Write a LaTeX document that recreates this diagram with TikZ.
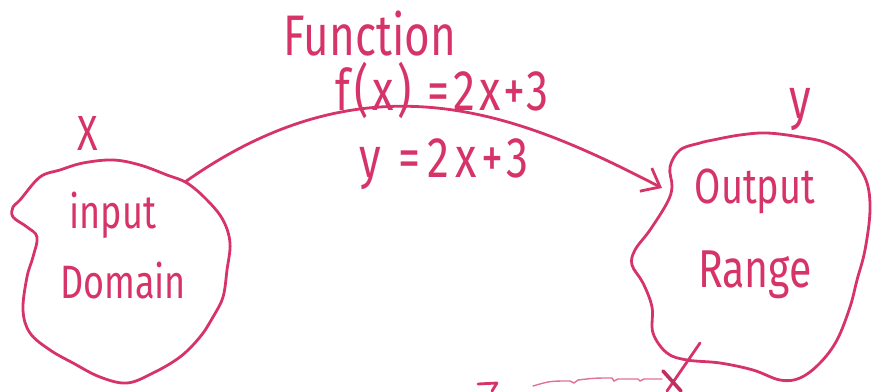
\documentclass[tikz,border=0pt]{standalone}
\usepackage{fontspec}
\setmainfont{Fira Sans}
\usetikzlibrary{arrows.meta}
\definecolor{ink}{RGB}{214,52,104}
\newcommand{\tall}[1]{\scalebox{1}[1.3]{#1}}
\tikzset{
  pen/.style={draw=ink, line width=2.8pt, line cap=round, line join=round},
  hand/.style={text=ink, inner sep=0pt, anchor=base},
}
\begin{document}
\begin{tikzpicture}[x=1pt,y=-1pt]
\useasboundingbox (0,0) rectangle (875,391);
% input blob
\draw[pen] plot[smooth cycle, tension=0.6] coordinates {
 (20,200) (40,177) (60,170) (83,163) (113,160) (140,165) (167,175) (187,183)
 (207,200) (223,220) (230,243) (227,270) (223,297) (213,317) (200,337)
 (180,357) (153,373) (127,383) (100,377) (73,363) (50,350) (30,333)
 (23,310) (27,277) (33,257) (37,237) (27,227) (13,217) (13,207)};
% output blob
\draw[pen] plot[smooth cycle, tension=0.6] coordinates {
 (713,140) (740,135) (767,133) (800,137) (827,143) (850,157) (866,180)
 (870,210) (865,250) (857,280) (850,307) (837,340) (820,363) (800,378)
 (780,380) (753,370) (720,363) (687,360) (667,353) (653,333) (652,307)
 (643,283) (632,265) (635,250) (650,230) (667,203) (672,187) (670,167)
 (680,150) (700,143)};
% labels
\node[hand, font=\fontsize{44}{44}\selectfont] (fn) at (370,55) {\tall{Function}};
\node[hand, font=\fontsize{44}{44}\selectfont\addfontfeature{LetterSpace=9}] (fx) at (442,110) {\tall{f(x) =2x+3}};
\node[hand, font=\fontsize{44}{44}\selectfont\addfontfeature{LetterSpace=14}] (yx) at (444,177) {\tall{y =2x+3}};
\node[hand, font=\fontsize{38}{38}\selectfont] (X) at (88,150) {\tall{X}};
\node[hand, font=\fontsize{44}{44}\selectfont] (Y) at (800,118) {\tall{y}};
\node[hand, font=\fontsize{36}{36}\selectfont] (in1) at (113,228) {\tall{input}};
\node[hand, font=\fontsize{36}{36}\selectfont] (in2) at (123,298) {\tall{Domain}};
\node[hand, font=\fontsize{38}{38}\selectfont] (out1) at (755,203) {\tall{Output}};
\node[hand, font=\fontsize{41}{41}\selectfont] (out2) at (755,287) {\tall{Range}};
% function arrow
\coordinate (a1) at (185,182);
\coordinate (a2) at (662,188);
\draw[pen, -{Straight Barb[length=16pt,width=26pt,line width=2.8pt]}]
  (a1) .. controls (370,51) and (521,115) .. (a2);
% partial strokes at bottom
\coordinate (s1) at (700,343);
\coordinate (s2) at (667,391);
\draw[pen] (s1) -- (s2);
\coordinate (x1) at (663,371);
\coordinate (x2) at (681,391);
\draw[pen, line width=3.6pt, draw=ink!90!black] (x1) -- (x2);
\coordinate (w1) at (533,386);
\coordinate (w2) at (662,379);
\draw[draw=ink!70, line width=1.4pt, line cap=round]
  (w1) .. controls (550,381) .. (570,381) -- (574,383) -- (578,380)
  .. controls (595,378) .. (612,378) -- (614,381) -- (618,379) -- (638,379)
  -- (640,381) -- (644,379) -- (w2);
\coordinate (z1) at (478,384);
\coordinate (z2) at (497,383);
\coordinate (z3) at (492,391);
\draw[pen] (z1) -- (z2) -- (z3);
\end{tikzpicture}
\end{document}
